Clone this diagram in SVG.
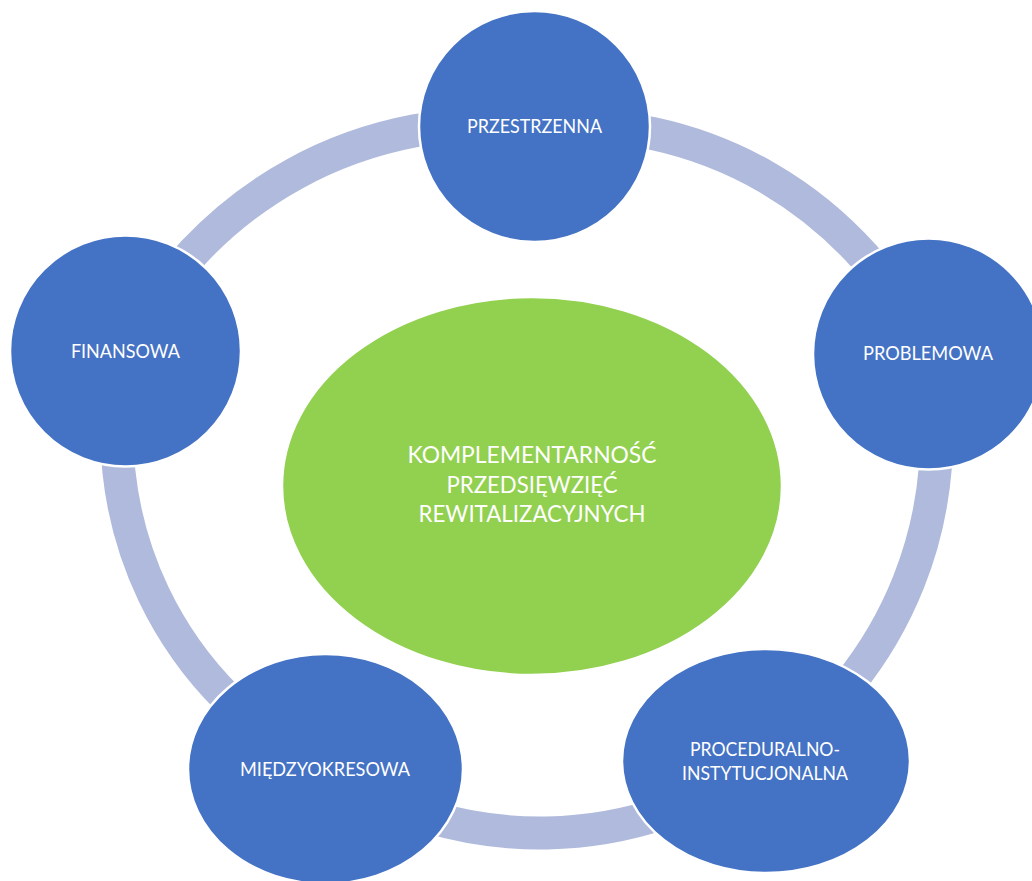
<svg xmlns="http://www.w3.org/2000/svg" width="1032" height="881" viewBox="0 0 1032 881">
  <style>
    .arc { fill: none; stroke: #AFBADC; stroke-width: 33; stroke-linecap: butt; }
    .node { fill: #4472C4; stroke: #FFFFFF; stroke-width: 2.5; }
    .center { fill: #92D050; stroke: #FFFFFF; stroke-width: 2.5; }
    .lbl { font-family: Lato, "Liberation Sans", "DejaVu Sans", sans-serif; fill: #FFFFFF; text-anchor: middle; font-size: 19px; }
    .clbl { font-family: Lato, "Liberation Sans", "DejaVu Sans", sans-serif; fill: #FFFFFF; text-anchor: middle; font-size: 23px; }
  </style>
  <rect x="0" y="0" width="1032" height="881" fill="#FFFFFF"/>
  <g id="connectors">
    <path class="arc" d="M534.5,126.5 A393.5,393.5 0 0 1 928,354"/>
    <path class="arc" d="M928,354 A395,395 0 0 1 766,761"/>
    <path class="arc" d="M766,761 A391,391 0 0 1 325.5,769"/>
    <path class="arc" d="M325.5,769 A377,377 0 0 1 125.5,351"/>
    <path class="arc" d="M125.5,351 A405,405 0 0 1 534.5,126.5"/>
  </g>
  <g id="center-node">
    <ellipse class="center" cx="532" cy="486" rx="250" ry="189"/>
    <text class="clbl" x="532" y="463" textLength="249" lengthAdjust="spacingAndGlyphs">KOMPLEMENTARNOŚĆ</text>
    <text class="clbl" x="532" y="493" textLength="171" lengthAdjust="spacingAndGlyphs">PRZEDSIĘWZIĘĆ</text>
    <text class="clbl" x="532" y="522" textLength="227" lengthAdjust="spacingAndGlyphs">REWITALIZACYJNYCH</text>
  </g>
  <g id="node-przestrzenna">
    <circle class="node" cx="534.5" cy="126.5" r="115.5"/>
    <text class="lbl" x="534.5" y="133" textLength="135" lengthAdjust="spacingAndGlyphs">PRZESTRZENNA</text>
  </g>
  <g id="node-problemowa">
    <circle class="node" cx="928.5" cy="354" r="115.5"/>
    <text class="lbl" x="928" y="360" textLength="130" lengthAdjust="spacingAndGlyphs">PROBLEMOWA</text>
  </g>
  <g id="node-proceduralno">
    <ellipse class="node" cx="766" cy="761" rx="144" ry="112"/>
    <text class="lbl" x="765" y="756" textLength="150" lengthAdjust="spacingAndGlyphs">PROCEDURALNO-</text>
    <text class="lbl" x="765" y="780" textLength="166" lengthAdjust="spacingAndGlyphs">INSTYTUCJONALNA</text>
  </g>
  <g id="node-miedzyokresowa">
    <ellipse class="node" cx="325.5" cy="769" rx="137.5" ry="115"/>
    <text class="lbl" x="325" y="776" textLength="170" lengthAdjust="spacingAndGlyphs">MIĘDZYOKRESOWA</text>
  </g>
  <g id="node-finansowa">
    <circle class="node" cx="125.5" cy="351" r="115.5"/>
    <text class="lbl" x="125.4" y="358" textLength="109" lengthAdjust="spacingAndGlyphs">FINANSOWA</text>
  </g>
</svg>
